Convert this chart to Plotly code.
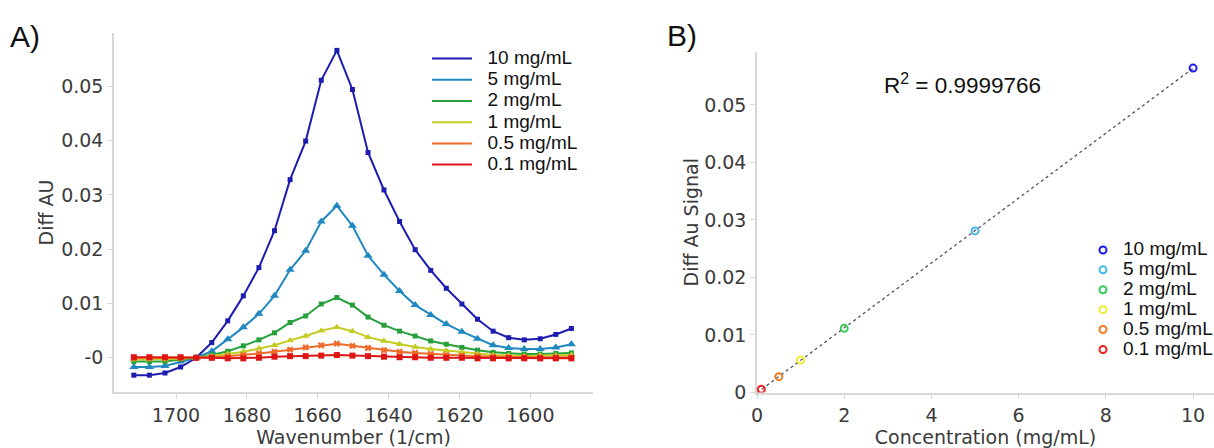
import numpy as np
import plotly.graph_objects as go

# ---------------- data ----------------
wavenumber = [1711.9, 1707.5, 1703.1, 1698.7, 1694.3, 1689.9, 1685.4, 1681.0, 1676.6, 1672.2,
              1667.8, 1663.4, 1659.0, 1654.6, 1650.2, 1645.8, 1641.3, 1636.9, 1632.5, 1628.1,
              1623.7, 1619.3, 1614.9, 1610.5, 1606.1, 1601.7, 1597.2, 1592.8, 1588.4]

series_names = ["10 mg/mL", "5 mg/mL", "2 mg/mL", "1 mg/mL", "0.5 mg/mL", "0.1 mg/mL"]

diff_10 = [-0.0032, -0.0032, -0.0028, -0.0017, 0.0000, 0.0028, 0.0068, 0.0114, 0.0166, 0.0234,
           0.0328, 0.0399, 0.0511, 0.0566, 0.0494, 0.0378, 0.0309, 0.0251, 0.0199, 0.0161,
           0.0128, 0.0099, 0.0071, 0.0049, 0.0037, 0.0033, 0.0035, 0.0043, 0.0054]
diff_5 = [-0.0017, -0.0017, -0.0015, -0.0007, 0.0000, 0.0012, 0.0034, 0.0056, 0.0081, 0.0114,
          0.0162, 0.0197, 0.0251, 0.0280, 0.0243, 0.0188, 0.0153, 0.0123, 0.0097, 0.0079,
          0.0062, 0.0048, 0.0035, 0.0023, 0.0018, 0.0016, 0.0016, 0.0019, 0.0025]
diff_2 = [-0.0007, -0.0007, -0.0007, -0.0003, 0.0000, 0.0005, 0.0012, 0.0022, 0.0033, 0.0046,
          0.0065, 0.0077, 0.0099, 0.0111, 0.0097, 0.0075, 0.0060, 0.0049, 0.0040, 0.0031,
          0.0025, 0.0019, 0.0014, 0.0010, 0.0008, 0.0007, 0.0007, 0.0008, 0.0009]
diff_1 = [-0.0003, -0.0003, -0.0003, -0.0002, 0.0000, 0.0003, 0.0007, 0.0011, 0.0017, 0.0023,
          0.0032, 0.0040, 0.0050, 0.0056, 0.0049, 0.0038, 0.0031, 0.0025, 0.0020, 0.0016,
          0.0013, 0.0010, 0.0007, 0.0005, 0.0004, 0.0003, 0.0004, 0.0004, 0.0005]
diff_05 = [0.0000, 0.0000, 0.0000, 0.0000, 0.0000, 0.0001, 0.0003, 0.0005, 0.0008, 0.0011,
           0.0015, 0.0019, 0.0023, 0.0026, 0.0022, 0.0018, 0.0014, 0.0011, 0.0009, 0.0007,
           0.0005, 0.0004, 0.0003, 0.0002, 0.0001, 0.0001, 0.0001, 0.0001, 0.0001]
diff_01 = [0.0001, 0.0001, 0.0001, 0.0001, 0.0000, 0.0000, -0.0001, -0.0001, 0.0000, 0.0002,
           0.0003, 0.0003, 0.0004, 0.0005, 0.0004, 0.0003, 0.0002, 0.0001, 0.0001, 0.0000,
           0.0000, 0.0000, -0.0001, -0.0001, -0.0001, -0.0001, -0.0001, -0.0001, -0.0001]

concentration = [10, 5, 2, 1, 0.5, 0.1]
peak_signal = [0.0564, 0.0281, 0.01116, 0.00565, 0.00275, 0.00056]

left_yticks = [0, 0.01, 0.02, 0.03, 0.04, 0.05]
left_yticktext = ["-0", "0.01", "0.02", "0.03", "0.04", "0.05"]
left_xticks = [1700, 1680, 1660, 1640, 1620, 1600]
right_yticks = [0, 0.01, 0.02, 0.03, 0.04, 0.05]
right_xticks = [0, 2, 4, 6, 8, 10]
r2_label = "R<sup>2</sup> = 0.9999766"

# ---------------- styling ----------------
W, H = 1214, 448
line_colors = ["#1c1cb0", "#2189c0", "#25a03a", "#c4cc22", "#f06a28", "#dd1515"]
line_symbols = ["square", "triangle-up", "square", "triangle-up", "x", "square"]
line_msizes = [5, 8, 5, 7, 6, 6]
dot_colors = ["#1a1aee", "#40b8ee", "#33cc55", "#eeee30", "#f47a22", "#ee2222"]
spectra = [diff_10, diff_5, diff_2, diff_1, diff_05, diff_01]

TICKFONT = dict(family="DejaVu Sans", size=19, color="#3a3a3a")
TITLEFONT = dict(family="DejaVu Sans", size=19, color="#3a3a3a")
LEGFONT_PX = 19


def px_x(p):
    return p / W


def px_y(p):
    return 1 - p / H


def legend_name(n, pad=""):
    return f'<span style="font-size:{LEGFONT_PX}px">{pad}{n}</span>'


fig = go.Figure()

for i, (name, ys, c, s, ms) in enumerate(zip(series_names, spectra, line_colors,
                                              line_symbols, line_msizes)):
    fig.add_trace(go.Scatter(
        x=wavenumber, y=ys, mode="lines", name=legend_name(name, "&nbsp;&nbsp;"),
        legendgroup=f"s{i}", line=dict(color=c, width=2),
        xaxis="x", yaxis="y", legend="legend",
    ))
    fig.add_trace(go.Scatter(
        x=wavenumber, y=ys, mode="markers", name=name, legendgroup=f"s{i}",
        showlegend=False, marker=dict(symbol=s, size=ms, color=c),
        xaxis="x", yaxis="y",
    ))

# regression line from the right-panel data
slope, intercept = np.polyfit(concentration, peak_signal, 1)
fit_x = np.array([0, max(concentration)])
fig.add_trace(go.Scatter(
    x=fit_x, y=slope * fit_x + intercept, mode="lines",
    line=dict(color="#555555", width=1.3, dash="dot"),
    showlegend=False, xaxis="x2", yaxis="y2", hoverinfo="skip",
))

for name, cx, cy, c in zip(series_names, concentration, peak_signal, dot_colors):
    fig.add_trace(go.Scatter(
        x=[cx], y=[cy], mode="markers", name=legend_name(name),
        marker=dict(symbol="circle-open", size=7, color=c, line=dict(width=2, color=c)),
        xaxis="x2", yaxis="y2", legend="legend2",
    ))

axis_common = dict(
    showline=True, linecolor="#d8d8d8", linewidth=1.5,
    ticks="outside", ticklen=5, tickcolor="#d8d8d8",
    showgrid=False, zeroline=False, tickfont=TICKFONT, automargin=False,
)

fig.update_layout(
    width=W, height=H,
    margin=dict(l=0, r=0, t=0, b=0, autoexpand=False),
    paper_bgcolor="white", plot_bgcolor="white",
    xaxis=dict(domain=[px_x(114), px_x(593)], anchor="y",
               range=[1717.5, 1582.3], tickvals=left_xticks,
               title=dict(text="Wavenumber (1/cm)", font=TITLEFONT),
               **axis_common),
    yaxis=dict(domain=[px_y(392), px_y(33)], anchor="x",
               range=[-0.0063, 0.0598], tickvals=left_yticks, ticktext=left_yticktext,
               title=dict(text="Diff AU", font=TITLEFONT, standoff=2),
               **axis_common),
    xaxis2=dict(domain=[px_x(757), 1.0], anchor="y2",
                range=[0, 10.48], tickvals=right_xticks,
                title=dict(text="Concentration (mg/mL)", font=TITLEFONT),
                **axis_common),
    yaxis2=dict(domain=[px_y(392.5), px_y(52)], anchor="x2",
                range=[0, 0.0592], tickvals=right_yticks,
                title=dict(text="Diff Au Signal", font=TITLEFONT, standoff=0),
                **axis_common),
    legend=dict(x=px_x(427), y=px_y(43), xanchor="left", yanchor="top",
                font=dict(family="Liberation Sans, Arial", size=14, color="#111111"),
                bgcolor="rgba(0,0,0,0)", itemwidth=40, tracegroupgap=0),
    legend2=dict(x=px_x(1083), y=px_y(235), xanchor="left", yanchor="top",
                 font=dict(family="Liberation Sans, Arial", size=13, color="#111111"),
                 bgcolor="rgba(0,0,0,0)"),
    annotations=[
        dict(text="A)", x=px_x(8), y=px_y(36), xref="paper", yref="paper",
             xanchor="left", yanchor="middle", showarrow=False,
             font=dict(family="Liberation Sans, Arial", size=30, color="#111111")),
        dict(text="B)", x=px_x(665), y=px_y(35), xref="paper", yref="paper",
             xanchor="left", yanchor="middle", showarrow=False,
             font=dict(family="Liberation Sans, Arial", size=30, color="#111111")),
        dict(text=r2_label, x=px_x(962), y=px_y(84), xref="paper", yref="paper",
             xanchor="center", yanchor="middle", showarrow=False,
             font=dict(family="Liberation Sans, Arial", size=22.5, color="#111111")),
    ],
)

fig.write_html("out.html", config={"displayModeBar": False},
               post_script="document.body.style.margin='0';document.body.style.overflow='hidden';")
